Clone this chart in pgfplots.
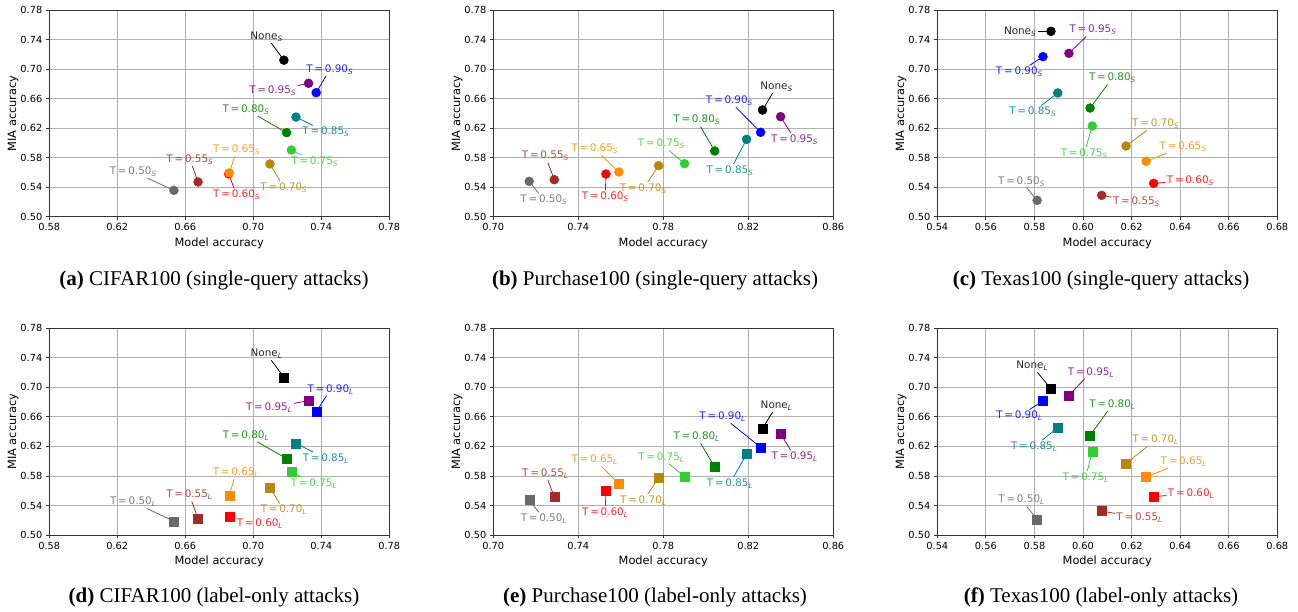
\documentclass[border=0pt]{standalone}
\usepackage{fontspec}
\setmainfont{DejaVu Sans}
\newfontfamily\serif{Liberation Serif}
\usepackage{pgfplots}
\pgfplotsset{compat=1.18}

\definecolor{c50}{HTML}{696969}
\definecolor{c55}{HTML}{A52A2A}
\definecolor{c60}{HTML}{FF0000}
\definecolor{c65}{HTML}{FF8C00}
\definecolor{c70}{HTML}{B8860B}
\definecolor{c75}{HTML}{32CD32}
\definecolor{c80}{HTML}{008000}
\definecolor{c85}{HTML}{008080}
\definecolor{c90}{HTML}{0000FF}
\definecolor{c95}{HTML}{800080}
\definecolor{cn}{HTML}{000000}
\definecolor{gridc}{HTML}{B0B0B0}
\definecolor{axc}{HTML}{333333}

\newcommand{\tickfont}{\fontsize{9.8}{11}\selectfont}
\newcommand{\labfont}{\fontsize{11.4}{13}\selectfont}
\newcommand{\annfont}{\fontsize{10.4}{12}\selectfont}
\newcommand{\capfont}{\serif\fontsize{21}{24}\selectfont}
\newcommand{\sS}{\textsubscript{\itshape S}}
\newcommand{\sL}{\textsubscript{\itshape L}}

% label: colour, text x, text y, point x, point y, text
\newcommand{\ann}[6]{%
  \node[text=#1, text opacity=0.85, font=\annfont, inner sep=1.5pt] (lab) at (axis cs:#2,#3) {#6};
  \draw[#1, line width=0.8pt, shorten >=4pt] (lab) -- (axis cs:#4,#5);
}

\pgfplotsset{
  panel/.style={
    scale only axis, width=340pt, height=206.7pt, anchor=south west,
    ymin=0.5, ymax=0.78,
    ytick={0.50,0.54,0.58,0.62,0.66,0.70,0.74,0.78},
    xticklabel={\pgfmathprintnumber[fixed,fixed zerofill,precision=2]{\tick}},
    yticklabel={\pgfmathprintnumber[fixed,fixed zerofill,precision=2]{\tick}},
    /pgf/number format/assume math mode=true,
    grid=major, grid style={draw=gridc, line width=0.8pt},
    axis line style={draw=axc, line width=0.9pt},
    tick align=outside, xtick pos=bottom, ytick pos=left,
    tick style={draw=axc, line width=0.8pt}, major tick length=3.5pt,
    ticklabel style={font=\tickfont},
    label style={font=\labfont},
    xlabel={Model accuracy}, ylabel={MIA accuracy},
    ylabel shift=-5pt,
    clip=false,
  },
  pts/.style={scatter, only marks, scatter src=explicit symbolic, mark size=4.5pt,
    scatter/classes={a={c50}, b={c55}, c={c60}, d={c65}, e={c70}, f={c75},
      g={c80}, h={c85}, i={c90}, j={c95}, n={cn}}},
}

\begin{document}
\begin{tikzpicture}
\useasboundingbox (0,0) rectangle (1298pt,612pt);

% (a) CIFAR100 single-query
\begin{axis}[panel, at={(49.3pt,395.3pt)}, xmin=0.58, xmax=0.78,
  xtick={0.58,0.62,0.66,0.70,0.74,0.78}]
\addplot[pts, mark=*] table[meta=c] {
x y c
0.6533 0.5357 a
0.6675 0.5470 b
0.6855 0.5580 c
0.6859 0.5592 d
0.7098 0.5714 e
0.7224 0.5903 f
0.7196 0.6138 g
0.7251 0.6350 h
0.7370 0.6680 i
0.7325 0.6807 j
0.7180 0.7120 n
};
\ann{cn}{0.7078}{0.7439}{0.7180}{0.7120}{None\sS}
\ann{c90}{0.7450}{0.6996}{0.7370}{0.6680}{T\,=\,0.90\sS}
\ann{c95}{0.7114}{0.6707}{0.7325}{0.6807}{T\,=\,0.95\sS}
\ann{c80}{0.6957}{0.6454}{0.7196}{0.6138}{T\,=\,0.80\sS}
\ann{c85}{0.7427}{0.6147}{0.7251}{0.6350}{T\,=\,0.85\sS}
\ann{c75}{0.7361}{0.5745}{0.7224}{0.5903}{T\,=\,0.75\sS}
\ann{c65}{0.6902}{0.5903}{0.6859}{0.5592}{T\,=\,0.65\sS}
\ann{c55}{0.6627}{0.5777}{0.6675}{0.5470}{T\,=\,0.55\sS}
\ann{c50}{0.6294}{0.5610}{0.6533}{0.5357}{T\,=\,0.50\sS}
\ann{c60}{0.6902}{0.5294}{0.6855}{0.5580}{T\,=\,0.60\sS}
\ann{c70}{0.7180}{0.5397}{0.7098}{0.5714}{T\,=\,0.70\sS}
\end{axis}

% (b) Purchase100 single-query
\begin{axis}[panel, at={(493.3pt,395.3pt)}, xmin=0.70, xmax=0.86,
  xtick={0.70,0.74,0.78,0.82,0.86}]
\addplot[pts, mark=*] table[meta=c] {
x y c
0.7169 0.5479 a
0.7287 0.5501 b
0.7530 0.5578 c
0.7591 0.5605 d
0.7778 0.5691 e
0.7900 0.5718 f
0.8042 0.5890 g
0.8192 0.6048 h
0.8258 0.6143 i
0.8352 0.6355 j
0.8267 0.6445 n
};
\ann{cn}{0.8333}{0.6761}{0.8267}{0.6445}{None\sS}
\ann{c90}{0.8111}{0.6572}{0.8258}{0.6143}{T\,=\,0.90\sS}
\ann{c95}{0.8418}{0.6048}{0.8352}{0.6355}{T\,=\,0.95\sS}
\ann{c80}{0.7957}{0.6310}{0.8042}{0.5890}{T\,=\,0.80\sS}
\ann{c85}{0.8114}{0.5623}{0.8192}{0.6048}{T\,=\,0.85\sS}
\ann{c75}{0.7791}{0.5985}{0.7900}{0.5718}{T\,=\,0.75\sS}
\ann{c70}{0.7706}{0.5379}{0.7778}{0.5691}{T\,=\,0.70\sS}
\ann{c65}{0.7477}{0.5917}{0.7591}{0.5605}{T\,=\,0.65\sS}
\ann{c60}{0.7527}{0.5271}{0.7530}{0.5578}{T\,=\,0.60\sS}
\ann{c55}{0.7245}{0.5822}{0.7287}{0.5501}{T\,=\,0.55\sS}
\ann{c50}{0.7238}{0.5226}{0.7169}{0.5479}{T\,=\,0.50\sS}
\end{axis}

% (c) Texas100 single-query
\begin{axis}[panel, at={(937.3pt,395.3pt)}, xmin=0.54, xmax=0.68,
  xtick={0.54,0.56,0.58,0.60,0.62,0.64,0.66,0.68}]
\addplot[pts, mark=*] table[meta=c] {
x y c
0.5811 0.5221 a
0.6077 0.5289 b
0.6291 0.5452 c
0.6260 0.5750 d
0.6177 0.5958 e
0.6038 0.6229 f
0.6029 0.6472 g
0.5896 0.6676 h
0.5835 0.7168 i
0.5942 0.7213 j
0.5868 0.7511 n
};
\ann{cn}{0.5741}{0.7511}{0.5868}{0.7511}{None\sS}
\ann{c95}{0.6041}{0.7529}{0.5942}{0.7213}{T\,=\,0.95\sS}
\ann{c90}{0.5738}{0.6960}{0.5835}{0.7168}{T\,=\,0.90\sS}
\ann{c80}{0.6121}{0.6879}{0.6029}{0.6472}{T\,=\,0.80\sS}
\ann{c85}{0.5793}{0.6418}{0.5896}{0.6676}{T\,=\,0.85\sS}
\ann{c75}{0.6005}{0.5858}{0.6038}{0.6229}{T\,=\,0.75\sS}
\ann{c70}{0.6299}{0.6256}{0.6177}{0.5958}{T\,=\,0.70\sS}
\ann{c65}{0.6412}{0.5949}{0.6260}{0.5750}{T\,=\,0.65\sS}
\ann{c60}{0.6442}{0.5488}{0.6291}{0.5452}{T\,=\,0.60\sS}
\ann{c55}{0.6220}{0.5199}{0.6077}{0.5289}{T\,=\,0.55\sS}
\ann{c50}{0.5747}{0.5479}{0.5811}{0.5221}{T\,=\,0.50\sS}
\end{axis}

% (d) CIFAR100 label-only
\begin{axis}[panel, at={(49.3pt,77pt)}, xmin=0.58, xmax=0.78,
  xtick={0.58,0.62,0.66,0.70,0.74,0.78}]
\addplot[pts, mark=square*] table[meta=c] {
x y c
0.6533 0.5185 a
0.6675 0.5221 b
0.6859 0.5248 c
0.6859 0.5537 d
0.7098 0.5637 e
0.7224 0.5854 f
0.7196 0.6034 g
0.7251 0.6242 h
0.7370 0.6667 i
0.7325 0.6820 j
0.7180 0.7136 n
};
\ann{cn}{0.7078}{0.7453}{0.7180}{0.7136}{None\sL}
\ann{c90}{0.7455}{0.6974}{0.7370}{0.6667}{T\,=\,0.90\sL}
\ann{c95}{0.7094}{0.6721}{0.7325}{0.6820}{T\,=\,0.95\sL}
\ann{c80}{0.6957}{0.6350}{0.7196}{0.6034}{T\,=\,0.80\sL}
\ann{c85}{0.7427}{0.6034}{0.7251}{0.6242}{T\,=\,0.85\sL}
\ann{c75}{0.7357}{0.5700}{0.7224}{0.5854}{T\,=\,0.75\sL}
\ann{c70}{0.7180}{0.5339}{0.7098}{0.5637}{T\,=\,0.70\sL}
\ann{c65}{0.6898}{0.5845}{0.6859}{0.5537}{T\,=\,0.65\sL}
\ann{c60}{0.7039}{0.5149}{0.6859}{0.5248}{T\,=\,0.60\sL}
\ann{c55}{0.6624}{0.5542}{0.6675}{0.5221}{T\,=\,0.55\sL}
\ann{c50}{0.6294}{0.5447}{0.6533}{0.5185}{T\,=\,0.50\sL}
\end{axis}

% (e) Purchase100 label-only
\begin{axis}[panel, at={(493.3pt,77pt)}, xmin=0.70, xmax=0.86,
  xtick={0.70,0.74,0.78,0.82,0.86}]
\addplot[pts, mark=square*] table[meta=c] {
x y c
0.7169 0.5474 a
0.7287 0.5515 b
0.7530 0.5605 c
0.7591 0.5696 d
0.7778 0.5772 e
0.7900 0.5790 f
0.8042 0.5921 g
0.8192 0.6098 h
0.8258 0.6188 i
0.8352 0.6369 j
0.8267 0.6445 n
};
\ann{cn}{0.8333}{0.6752}{0.8267}{0.6445}{None\sL}
\ann{c90}{0.8079}{0.6603}{0.8258}{0.6188}{T\,=\,0.90\sL}
\ann{c95}{0.8418}{0.6061}{0.8352}{0.6369}{T\,=\,0.95\sL}
\ann{c80}{0.7957}{0.6332}{0.8042}{0.5921}{T\,=\,0.80\sL}
\ann{c85}{0.8114}{0.5700}{0.8192}{0.6098}{T\,=\,0.85\sL}
\ann{c75}{0.7791}{0.6052}{0.7900}{0.5790}{T\,=\,0.75\sL}
\ann{c70}{0.7706}{0.5465}{0.7778}{0.5772}{T\,=\,0.70\sL}
\ann{c65}{0.7477}{0.6016}{0.7591}{0.5696}{T\,=\,0.65\sL}
\ann{c60}{0.7527}{0.5303}{0.7530}{0.5605}{T\,=\,0.60\sL}
\ann{c55}{0.7245}{0.5836}{0.7287}{0.5515}{T\,=\,0.55\sL}
\ann{c50}{0.7238}{0.5221}{0.7169}{0.5474}{T\,=\,0.50\sL}
\end{axis}

% (f) Texas100 label-only
\begin{axis}[panel, at={(937.3pt,77pt)}, xmin=0.54, xmax=0.68,
  xtick={0.54,0.56,0.58,0.60,0.62,0.64,0.66,0.68}]
\addplot[pts, mark=square*] table[meta=c] {
x y c
0.5811 0.5212 a
0.6077 0.5325 b
0.6291 0.5519 c
0.6260 0.5786 d
0.6177 0.5971 e
0.6038 0.6129 f
0.6029 0.6350 g
0.5896 0.6454 h
0.5835 0.6816 i
0.5942 0.6893 j
0.5868 0.6978 n
};
\ann{cn}{0.5791}{0.7290}{0.5868}{0.6978}{None\sL}
\ann{c95}{0.6033}{0.7204}{0.5942}{0.6893}{T\,=\,0.95\sL}
\ann{c90}{0.5738}{0.6612}{0.5835}{0.6816}{T\,=\,0.90\sL}
\ann{c80}{0.6121}{0.6766}{0.6029}{0.6350}{T\,=\,0.80\sL}
\ann{c85}{0.5799}{0.6197}{0.5896}{0.6454}{T\,=\,0.85\sL}
\ann{c75}{0.6011}{0.5781}{0.6038}{0.6129}{T\,=\,0.75\sL}
\ann{c70}{0.6299}{0.6287}{0.6177}{0.5971}{T\,=\,0.70\sL}
\ann{c65}{0.6415}{0.5994}{0.6260}{0.5786}{T\,=\,0.65\sL}
\ann{c60}{0.6445}{0.5565}{0.6291}{0.5519}{T\,=\,0.60\sL}
\ann{c55}{0.6233}{0.5230}{0.6077}{0.5325}{T\,=\,0.55\sL}
\ann{c50}{0.5747}{0.5474}{0.5811}{0.5212}{T\,=\,0.50\sL}
\end{axis}

\node[anchor=base, font=\capfont] at (214pt,326.5pt) {\textbf{(a)} CIFAR100 (single-query attacks)};
\node[anchor=base, font=\capfont] at (655pt,326.5pt) {\textbf{(b)} Purchase100 (single-query attacks)};
\node[anchor=base, font=\capfont] at (1101pt,326.5pt) {\textbf{(c)} Texas100 (single-query attacks)};
\node[anchor=base, font=\capfont] at (214pt,9pt) {\textbf{(d)} CIFAR100 (label-only attacks)};
\node[anchor=base, font=\capfont] at (655pt,9pt) {\textbf{(e)} Purchase100 (label-only attacks)};
\node[anchor=base, font=\capfont] at (1101pt,9pt) {\textbf{(f)} Texas100 (label-only attacks)};
\end{tikzpicture}
\end{document}
